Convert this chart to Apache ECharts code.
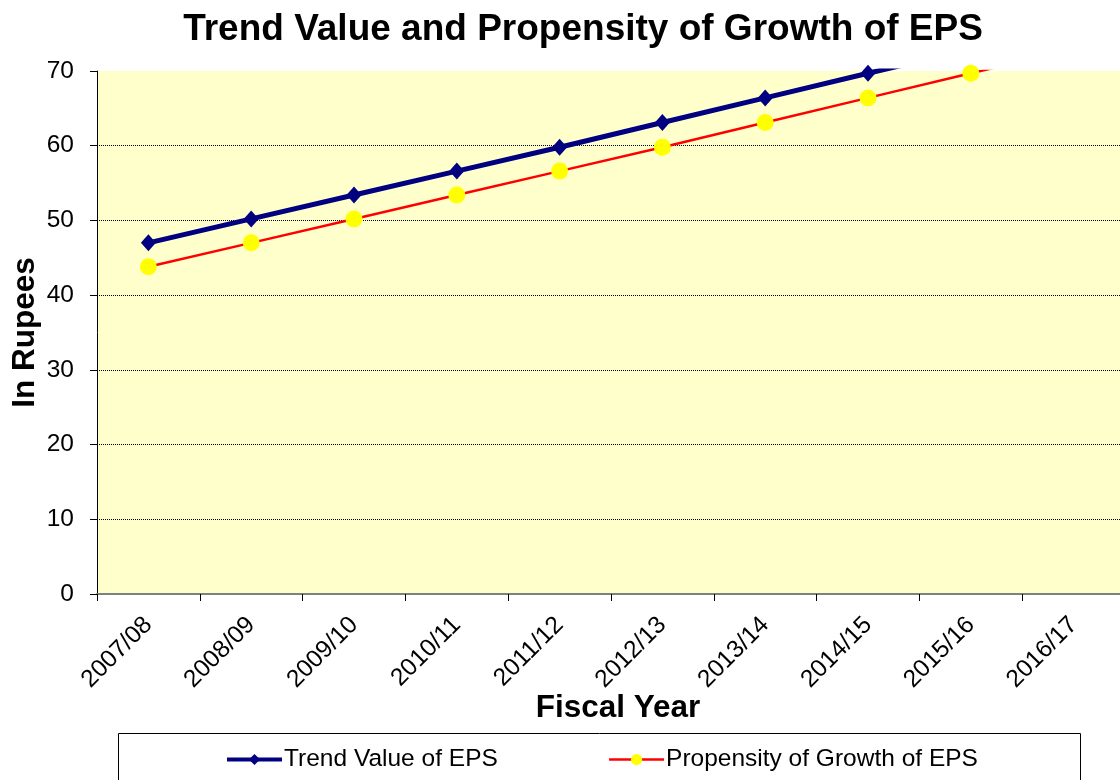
<!DOCTYPE html>
<html><head><meta charset="utf-8">
<script src="https://cdn.jsdelivr.net/npm/echarts@6/dist/echarts.min.js"></script>
<style>html,body{margin:0;padding:0;background:#fff}#c{width:1120px;height:780px}</style>
</head><body><div id="c"></div>
<script>
const categories = ['2007/08','2008/09','2009/10','2010/11','2011/12','2012/13','2013/14','2014/15','2015/16','2016/17'];
const trendValues = [47.0, 50.2, 53.4, 56.6, 59.8, 63.1, 66.4, 69.7, 72.9, 76.2];
const propensityValues = [43.8, 47.0, 50.2, 53.4, 56.6, 59.8, 63.1, 66.4, 69.7, 72.9];
const yTicks = [0, 10, 20, 30, 40, 50, 60, 70];

const font = 'Liberation Sans, Arial, sans-serif';
const chart = echarts.init(document.getElementById('c'), null, {renderer: 'canvas'});
chart.setOption({
  backgroundColor: '#fff',
  animation: false,
  title: {
    text: 'Trend Value and Propensity of Growth of EPS',
    left: 578, top: 6, textAlign: 'center',
    textStyle: {fontFamily: font, fontSize: 37, fontWeight: 'bold', color: '#000'}
  },
  grid: {left: 97, top: 71, right: -5, bottom: 186, show: true, backgroundColor: '#FFFFCC', borderWidth: 0,
         containLabel: false, outerBoundsMode: 'none'},
  legend: {
    left: 220, top: 742, itemWidth: 55, itemHeight: 14, itemGap: 110,
    textStyle: {fontFamily: font, fontSize: 24.5, color: '#000', padding: [0, 0, 0, -3]},
    data: [
      {name: 'Trend Value of EPS', lineStyle: {width: 4, color: '#000080'}},
      {name: 'Propensity of Growth of EPS', lineStyle: {width: 2.5, color: '#FF0000'}}
    ]
  },
  graphic: [{
    type: 'rect', shape: {x: 118.5, y: 733.5, width: 962, height: 60},
    style: {fill: 'none', stroke: '#000', lineWidth: 1}, z: -1
  }],
  xAxis: {
    type: 'category', data: categories, boundaryGap: true,
    name: 'Fiscal Year', nameLocation: 'middle', nameGap: 98, nameMoveOverlap: false,
    nameTextStyle: {fontFamily: font, fontSize: 31.5, fontWeight: 'bold', color: '#000', padding: [0, 0, 0, 14]},
    axisLine: {lineStyle: {color: '#808080', width: 2}},
    axisTick: {show: true, length: 7, lineStyle: {color: '#000', width: 1}},
    axisLabel: {rotate: 45, fontFamily: font, fontSize: 24.5, color: '#000', margin: 27, interval: 0},
    splitLine: {show: false}
  },
  yAxis: {
    type: 'value', min: yTicks[0], max: yTicks[yTicks.length - 1], interval: 10,
    name: 'In Rupees', nameLocation: 'middle', nameGap: 55.5, nameRotate: 90, nameMoveOverlap: false,
    nameTextStyle: {fontFamily: font, fontSize: 31.5, fontWeight: 'bold', color: '#000'},
    axisLine: {show: true, lineStyle: {color: '#000', width: 1}},
    axisTick: {show: true, length: 7, lineStyle: {color: '#000'}},
    axisLabel: {fontFamily: font, fontSize: 24.5, color: '#000', margin: 23},
    splitLine: {show: true, showMaxLine: false, lineStyle: {color: '#000', type: [1, 1], width: 1}}
  },
  series: [
    {
      name: 'Trend Value of EPS', type: 'line', data: trendValues, clip: true,
      symbol: 'diamond', symbolSize: [15, 17],
      lineStyle: {color: '#000080', width: 5},
      itemStyle: {color: '#000080'}, z: 3
    },
    {
      name: 'Propensity of Growth of EPS', type: 'line', data: propensityValues, clip: true,
      symbol: 'circle', symbolSize: 17,
      lineStyle: {color: '#FF0000', width: 2.5},
      itemStyle: {color: '#FFFF00', borderWidth: 0}, z: 4
    }
  ]
});
</script></body></html>
